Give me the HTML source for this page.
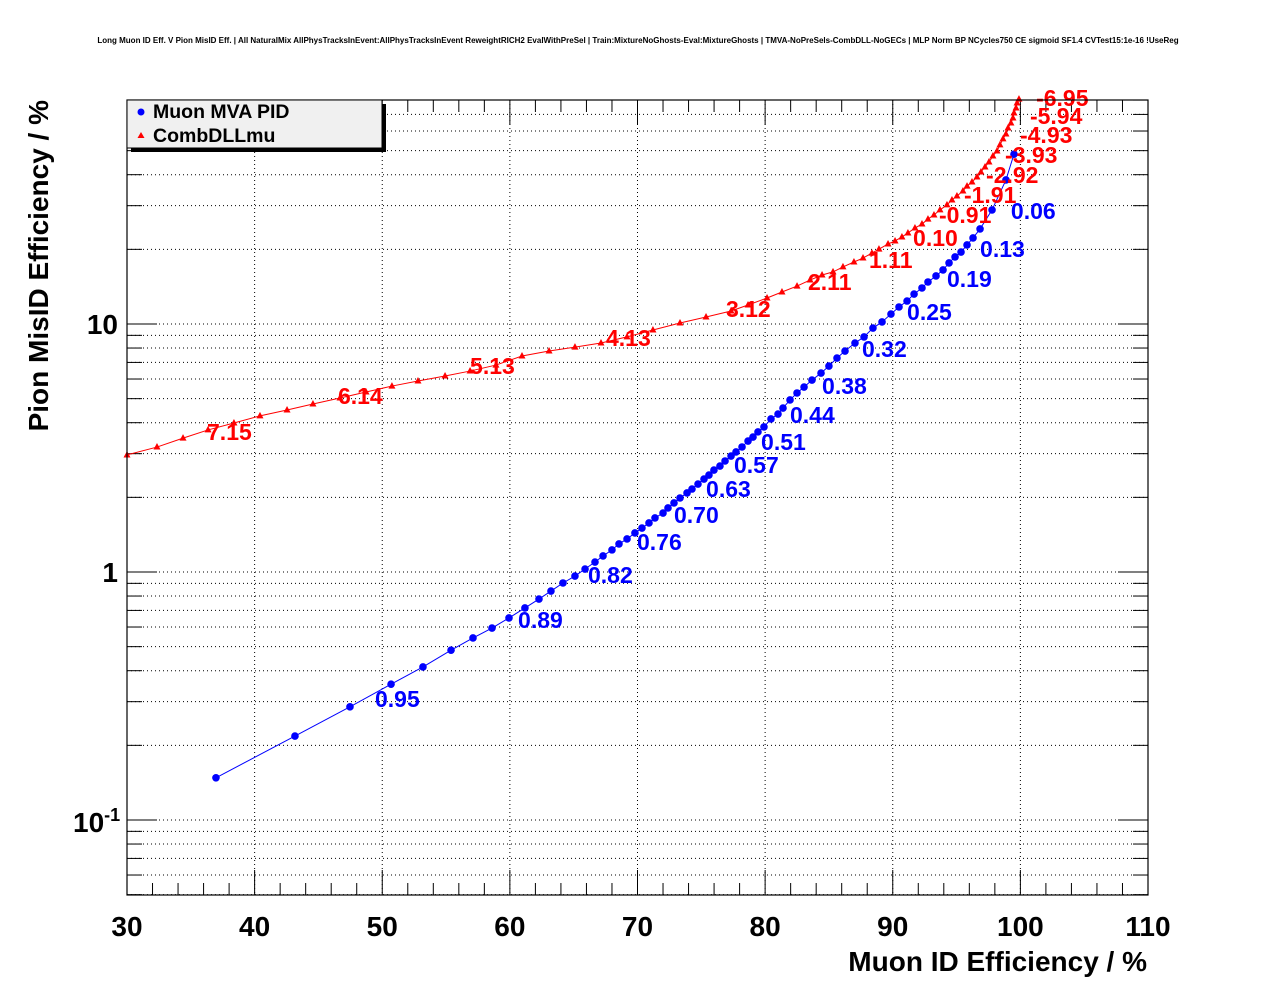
<!DOCTYPE html>
<html><head><meta charset="utf-8"><style>
html,body{margin:0;padding:0;background:#fff;}
svg text{font-family:"Liberation Sans",Arial,sans-serif;font-weight:bold;}
</style></head><body>
<svg id="chart" width="1276" height="996" xmlns="http://www.w3.org/2000/svg">
<rect width="1276" height="996" fill="#fff"/>
<text x="638" y="43" font-size="8" text-anchor="middle">Long Muon ID Eff. V Pion MisID Eff. | All NaturalMix AllPhysTracksInEvent:AllPhysTracksInEvent ReweightRICH2 EvalWithPreSel | Train:MixtureNoGhosts-Eval:MixtureGhosts | TMVA-NoPreSels-CombDLL-NoGECs | MLP Norm BP NCycles750 CE sigmoid SF1.4 CVTest15:1e-16 !UseReg</text>
<g id="grid"></g>
<g id="axes"></g>
<g id="series"></g>
<rect x="127" y="100" width="1021" height="795" fill="none" stroke="#000" stroke-width="1.2"/>
<text x="1147" y="971" font-size="28" text-anchor="end">Muon ID Efficiency / %</text>
<text transform="translate(48,100) rotate(-90)" font-size="28" text-anchor="end">Pion MisID Efficiency / %</text>
<g>
<rect x="131" y="104" width="255" height="48" fill="#000"/>
<rect x="127" y="100" width="255" height="48" fill="#f0f0f0" stroke="#000" stroke-width="1"/>
<circle cx="141" cy="112" r="3.5" fill="#0000ff"/>
<text x="153" y="118" font-size="19.5">Muon MVA PID</text>
<polygon points="141,132 137.5,138 144.5,138" fill="#ff0000"/>
<text x="153" y="142" font-size="19.5">CombDLLmu</text>
</g>
</svg>
<script>
const mvaX=[36.97,43.16,47.47,50.69,53.19,55.39,57.11,58.60,59.93,61.18,62.28,63.22,64.16,65.10,65.89,66.67,67.30,68.00,68.55,69.18,69.80,70.35,70.90,71.37,72.00,72.39,72.86,73.33,73.88,74.27,74.74,75.21,75.60,75.99,76.46,76.86,77.33,77.72,78.19,78.66,79.05,79.44,79.91,80.46,81.01,81.40,81.95,82.50,83.05,83.67,84.38,85.00,85.63,86.26,87.04,87.75,88.45,89.16,89.86,90.49,91.12,91.67,92.29,92.76,93.39,93.94,94.41,94.88,95.35,95.82,96.29,96.84,97.78,98.87,99.50];
const mvaY=[0.148,0.218,0.286,0.353,0.414,0.484,0.542,0.594,0.653,0.716,0.778,0.838,0.903,0.963,1.028,1.097,1.161,1.228,1.298,1.359,1.437,1.504,1.577,1.652,1.729,1.812,1.898,1.988,2.083,2.161,2.263,2.371,2.460,2.576,2.673,2.803,2.935,3.048,3.192,3.374,3.499,3.673,3.846,4.140,4.335,4.581,4.94,5.27,5.57,5.94,6.34,6.77,7.29,7.78,8.38,8.87,9.63,10.19,10.97,11.71,12.38,13.21,13.97,14.77,15.62,16.52,17.63,18.64,19.51,20.83,22.23,24.18,28.84,38.11,48.4];
const dllX=[30.00,32.35,34.39,36.35,38.38,40.42,42.54,44.57,46.69,48.73,50.76,52.80,54.92,56.88,58.91,60.95,63.07,65.10,67.14,69.18,71.21,73.33,75.37,77.33,78.66,80.15,81.32,82.50,83.52,84.46,85.32,86.10,86.96,87.67,88.37,88.92,89.63,90.18,90.72,91.19,91.74,92.29,92.76,93.23,93.70,94.25,94.64,95.03,95.50,95.82,96.21,96.60,96.91,97.23,97.54,97.85,98.17,98.40,98.64,98.87,99.03,99.26,99.42,99.50,99.66,99.74,99.89];
const dllY=[2.965,3.19,3.467,3.74,3.99,4.26,4.50,4.76,5.03,5.32,5.62,5.89,6.17,6.46,6.83,7.43,7.78,8.07,8.38,8.87,9.46,10.09,10.67,11.28,11.93,12.73,13.46,14.22,15.04,15.76,16.22,16.99,17.78,18.45,19.32,20.04,21.02,21.62,22.44,23.29,24.38,25.30,26.49,27.52,28.84,30.21,31.64,32.83,34.38,35.99,37.39,39.17,41.03,42.97,44.99,47.56,49.84,52.75,55.75,58.36,61.7,64.6,67.7,70.9,74.3,77.8,80.7];
const mvaLabelText=["0.95","0.89","0.82","0.76","0.70","0.63","0.57","0.51","0.44","0.38","0.32","0.25","0.19","0.13","0.06"];
const mvaLabelX=[49.43,60.64,66.12,69.96,72.86,75.37,77.56,79.68,81.95,84.46,87.59,91.12,94.25,96.84,99.26];
const mvaLabelY=[0.286,0.594,0.903,1.228,1.577,2.006,2.51,3.10,3.99,5.22,7.36,10.38,14.10,18.64,26.49];
const dllLabelText=["7.15","6.14","5.13","4.13","3.12","2.11","1.11","0.10","-0.91","-1.91","-2.92","-3.93","-4.93","-5.94","-6.95"];
const dllLabelX=[36.27,46.53,56.88,67.53,76.93,83.36,88.14,91.59,93.62,95.58,97.31,98.80,99.97,100.75,101.23];
const dllLabelY=[3.40,4.76,6.28,8.15,10.67,13.71,16.82,20.65,25.5,30.8,37.1,44.6,53.7,64.0,75.7];
const xTicks=[30,40,50,60,70,80,90,100,110];

const NS="http://www.w3.org/2000/svg";
const X0=127,X1=1148,Y0=100,Y1=895,XMIN=30,XMAX=110;
const LYMIN=-1-(895-820)/248, LYMAX=1+(324-100)/248;
function sx(v){return X0+(v-XMIN)/(XMAX-XMIN)*(X1-X0);}
function sy(v){return Y1-(Math.log10(v)-LYMIN)/(LYMAX-LYMIN)*(Y1-Y0);}
function mk(tag,attrs,parent){const e=document.createElementNS(NS,tag);for(const k in attrs)e.setAttribute(k,attrs[k]);parent.appendChild(e);return e;}
const grid=document.getElementById('grid'),axes=document.getElementById('axes'),ser=document.getElementById('series');

for(let v=30;v<=110;v+=2){
  const x=sx(v),major=(v%10===0);
  const len=major?25:12;
  const t1=mk('line',{x1:x,x2:x,y1:Y1,y2:Y1-len,stroke:'#000','stroke-width':1},axes);
  
  
  const t2=mk('line',{x1:x,x2:x,y1:Y0,y2:Y0+len,stroke:'#000','stroke-width':1},axes);
  
  
  if(major&&v>XMIN&&v<XMAX){
    const g=mk('line',{x1:x,x2:x,y1:Y0,y2:Y1,stroke:'#000','stroke-width':1,'stroke-dasharray':'1,3'},grid);
    
    
  }
}
xTicks.forEach(v=>{
  const t=mk('text',{x:sx(v),y:936,'font-size':28,'text-anchor':'middle'},axes);
  t.textContent=v;
  
  
});
for(let d=-2;d<=1;d++){
  for(let m=1;m<=9;m++){
    const v=m*Math.pow(10,d);
    const y=sy(v);
    if(y<Y0-0.5||y>Y1+0.5)continue;
    const major=(m===1);
    const len=major?30:15;
    const a=mk('line',{x1:X0,x2:X0+len,y1:y,y2:y,stroke:'#000','stroke-width':1},axes);
    
    
    const b=mk('line',{x1:X1,x2:X1-len,y1:y,y2:y,stroke:'#000','stroke-width':1},axes);
    
    
    const g=mk('line',{x1:X0,x2:X1,y1:y,y2:y,stroke:'#000','stroke-width':1,'stroke-dasharray':'1,3'},grid);
    
    
  }
}
[[10,'10'],[1,'1']].forEach(p=>{
  const t=mk('text',{x:118,y:sy(p[0])+10,'font-size':28,'text-anchor':'end'},axes);
  t.textContent=p[1];
  
  
});
{
  const t=mk('text',{x:73,y:sy(0.1)+12,'font-size':28},axes);
  t.textContent='10';
  
  
  const s=mk('tspan',{dy:-11,'font-size':18},t);
  s.textContent='-1';
}
function drawLine(xs,ys,col,name){
  const p=mk('polyline',{points:xs.map((v,i)=>sx(v)+','+sy(ys[i])).join(' '),fill:'none',stroke:col,'stroke-width':1},ser);
  
  
}
drawLine(dllX,dllY,'#ff0000','dll-line');
drawLine(mvaX,mvaY,'#0000ff','mva-line');
dllX.forEach((v,i)=>{
  const x=sx(v),y=sy(dllY[i]);
  const t=mk('polygon',{points:`${x},${y-4} ${x-3.5},${y+2.5} ${x+3.5},${y+2.5}`,fill:'#ff0000'},ser);
  
  
});
mvaX.forEach((v,i)=>{
  const c=mk('circle',{cx:sx(v),cy:sy(mvaY[i]),r:3.8,fill:'#0000ff'},ser);
  
  
});
dllLabelText.forEach((s,i)=>{
  const t=mk('text',{x:sx(dllLabelX[i]),y:sy(dllLabelY[i]),'font-size':23,fill:'#ff0000'},ser);
  t.textContent=s;
  
  
});
mvaLabelText.forEach((s,i)=>{
  const t=mk('text',{x:sx(mvaLabelX[i]),y:sy(mvaLabelY[i]),'font-size':23,fill:'#0000ff'},ser);
  t.textContent=s;
  
  
});
</script>
</body></html>
